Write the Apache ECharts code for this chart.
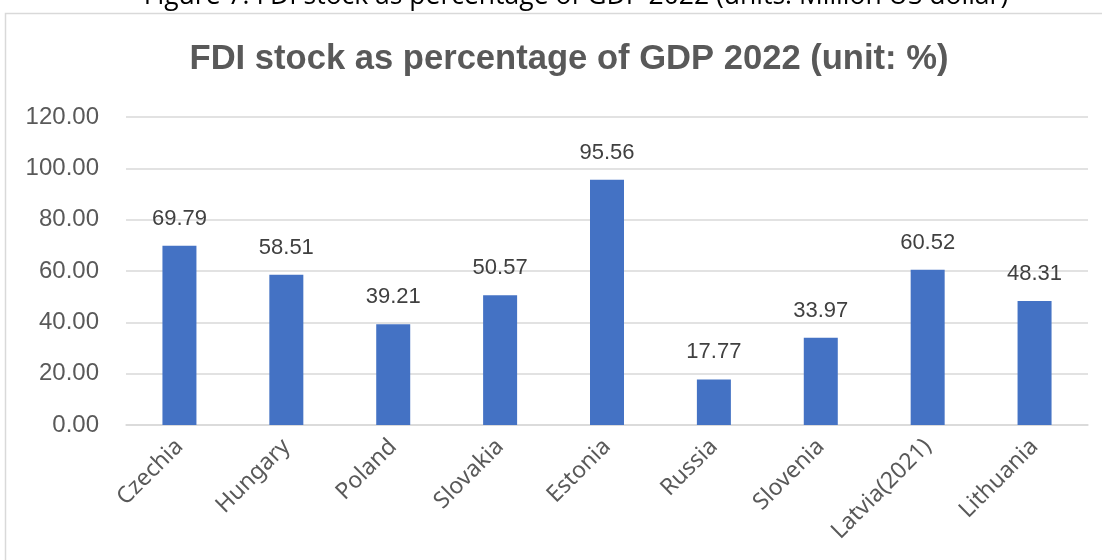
<!DOCTYPE html>
<html>
<head>
<meta charset="utf-8">
<script src="https://cdn.jsdelivr.net/npm/echarts@6/dist/echarts.min.js"></script>
<style>
  html, body { margin: 0; padding: 0; background: #fff; }
  #chart { width: 1102px; height: 560px; }
</style>
</head>
<body>
<div id="chart"></div>
<script>
const countries = ['Czechia', 'Hungary', 'Poland', 'Slovakia', 'Estonia', 'Russia', 'Slovenia', 'Latvia(2021)', 'Lithuania'];
const fdiShare = [69.79, 58.51, 39.21, 50.57, 95.56, 17.77, 33.97, 60.52, 48.31];
const yTicks = [0, 20, 40, 60, 80, 100, 120];

const chart = echarts.init(document.getElementById('chart'));
chart.setOption({
  backgroundColor: '#ffffff',
  animation: false,
  graphic: [
    {
      type: 'text',
      x: 576,
      y: -17,
      style: {
        text: 'Figure 7: FDI stock as percentage of GDP 2022 (units: Million US dollar)',
        fontFamily: 'Open Sans',
        fontSize: 26.5,
        fill: '#000000',
        align: 'center'
      },
      z: 1
    },
    {
      type: 'rect',
      shape: { x: 5.5, y: 13.5, width: 1200, height: 700 },
      style: { fill: '#ffffff', stroke: '#d9d9d9', lineWidth: 1.5 },
      z: 0
    }
  ],
  title: {
    text: 'FDI stock as percentage of GDP 2022 (unit: %)',
    left: 564,
    textAlign: 'center',
    top: 37,
    textStyle: {
      fontFamily: 'Liberation Sans',
      fontSize: 34.6,
      fontWeight: 'bold',
      color: '#595959'
    }
  },
  grid: { left: 126, right: 14, top: 117, bottom: 135 },
  xAxis: {
    type: 'category',
    data: countries,
    axisLine: { lineStyle: { color: '#d9d9d9', width: 1.5 } },
    axisTick: { show: false },
    axisLabel: {
      rotate: 45,
      interval: 0,
      margin: 18,
      fontFamily: 'Noto Sans',
      fontSize: 23,
      color: '#595959'
    }
  },
  yAxis: {
    type: 'value',
    min: yTicks[0],
    max: yTicks[yTicks.length - 1],
    interval: yTicks[1] - yTicks[0],
    axisLine: { show: false },
    axisTick: { show: false },
    splitLine: { lineStyle: { color: '#d9d9d9', width: 1.5 } },
    axisLabel: {
      margin: 27,
      fontFamily: 'Liberation Sans',
      fontSize: 24,
      color: '#595959',
      formatter: v => v.toFixed(2)
    }
  },
  series: [{
    type: 'bar',
    data: fdiShare,
    barWidth: 34,
    itemStyle: { color: '#4472c4' },
    label: {
      show: true,
      position: 'top',
      distance: 16,
      fontFamily: 'Liberation Sans',
      fontSize: 22,
      color: '#404040',
      formatter: p => p.value.toFixed(2)
    }
  }]
});
</script>
</body>
</html>
